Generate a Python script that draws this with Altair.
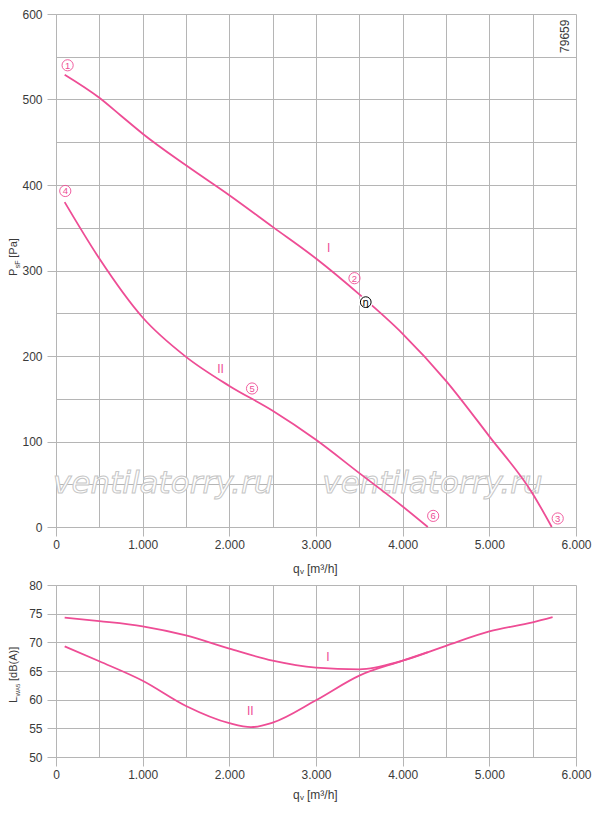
import altair as alt
import pandas as pd

PINK = "#ee4d95"
GRID = "#b5b5b5"
TXT = "#3a3a3a"
FONT = "Liberation Sans"

# ---------- data: pressure curves (top) ----------
p1_q = [100, 500, 750, 1000, 1500, 2000, 2500, 3000, 3500, 4000, 4500, 5000, 5500, 5720]
p1_p = [529, 502, 481, 460, 423, 388, 351, 314, 272, 226, 171, 106, 39, 0]
p2_q = [100, 500, 1000, 1500, 2000, 2500, 3000, 3500, 4000, 4290]
p2_p = [380, 314, 245, 199, 165, 136, 102, 63, 24, 0]

# ---------- data: sound power curves (bottom) ----------
l1_q = [100, 500, 1000, 1500, 2000, 2500, 3000, 3500, 4000, 4500, 5000, 5500, 5730]
l1_l = [74.3, 73.7, 72.8, 71.2, 68.9, 66.8, 65.6, 65.3, 66.8, 69.4, 71.9, 73.5, 74.4]
l2_q = [100, 500, 1000, 1500, 2000, 2250, 2500, 3000, 3500, 4000, 4290]
l2_l = [69.3, 66.7, 63.3, 58.9, 55.9, 55.2, 56.0, 59.9, 64.2, 66.8, 68.3]

# ---------- annotations ----------
pt_q = [134, 3444, 5789, 107, 2262, 4352]
pt_p = [540, 291, 10, 393, 162, 13]
pt_lbl = ["1", "2", "3", "4", "5", "6"]

curve_lbl = ["I", "II"]
top_lbl_q = [3146, 1899]
top_lbl_p = [326, 185]
bot_lbl_q = [3139, 2242]
bot_lbl_l = [67.5, 58.0]

eta_q = [3574]
eta_p = [263]

wm_q = [1237, 4344]
wm_p = [39.5, 39.5]
wm_text = ["ventilatorry.ru", "ventilatorry.ru"]

code_q = [5877]
code_p = [574]
code_text = ["79659"]

x_ticks = list(range(0, 6001, 500))
ytop_ticks = list(range(0, 601, 50))
ybot_ticks = list(range(50, 81, 5))

W = 520
H1 = 513
H2 = 172

xscale = alt.Scale(domain=[0, 6000], nice=False, zero=False)
ytop_scale = alt.Scale(domain=[0, 600], nice=False, zero=False)
ybot_scale = alt.Scale(domain=[50, 80], nice=False, zero=False)

x_label_expr = ("datum.value === 0 ? '0' : (datum.value % 1000 === 0 ? "
                "format(datum.value / 1000, 'd') + '.000' : '')")


def x_axis():
    return alt.Axis(
        values=x_ticks, labelExpr=x_label_expr, title=None, grid=True,
        gridColor=GRID, domainColor=GRID, tickColor=GRID, tickSize=9,
        tickOpacity={"condition": {"test": "datum.value % 1000 === 0", "value": 1}, "value": 0},
        labelPadding=3, labelFontSize=12, labelColor=TXT, labelFont=FONT,
        labelFlush=False, labelOverlap=False,
    )


def ytop_axis():
    return alt.Axis(
        values=ytop_ticks, labelExpr="datum.value % 100 === 0 ? datum.label : ''",
        title=None, grid=True, gridColor=GRID, domainColor=GRID, tickColor=GRID,
        tickSize=9,
        tickOpacity={"condition": {"test": "datum.value % 100 === 0", "value": 1}, "value": 0},
        labelPadding=5, labelFontSize=12, labelColor=TXT, labelFont=FONT,
        labelOverlap=False, labelFlush=False,
    )


def ybot_axis():
    return alt.Axis(
        values=ybot_ticks, title=None, grid=True, gridColor=GRID, domainColor=GRID,
        tickColor=GRID, tickSize=9, labelPadding=5, labelFontSize=12,
        labelColor=TXT, labelFont=FONT, labelOverlap=False, labelFlush=False,
    )


def XT():
    return alt.X("q:Q", scale=xscale, axis=x_axis())


def YT(field="p:Q"):
    return alt.Y(field, scale=ytop_scale, axis=ytop_axis())


def YB(field="l:Q"):
    return alt.Y(field, scale=ybot_scale, axis=ybot_axis())


one = pd.DataFrame({"a": [0]})


def label(txt, x, y, size, angle=None, align="left"):
    kw = dict(text=txt, fontSize=size, font=FONT, color=TXT, align=align, baseline="middle")
    if angle is not None:
        kw["angle"] = angle
    return alt.Chart(one).mark_text(**kw).encode(x=alt.value(x), y=alt.value(y))


# ================= TOP CHART =================
wm_df = pd.DataFrame({"q": wm_q, "p": wm_p, "t": wm_text})
watermark = alt.Chart(wm_df).mark_text(
    font="DejaVu Sans", fontStyle="italic", fontSize=31, fill="white",
    stroke="#c6c6c6", strokeWidth=1, baseline="alphabetic", align="center",
).encode(x=XT(), y=YT(), text="t:N")

top_df = pd.DataFrame({
    "q": p1_q + p2_q,
    "p": p1_p + p2_p,
    "s": ["I"] * len(p1_q) + ["II"] * len(p2_q),
})
top_lines = alt.Chart(top_df).mark_line(
    color=PINK, strokeWidth=1.8, interpolate="monotone"
).encode(x=XT(), y=YT(), detail="s:N")

pt_df = pd.DataFrame({"q": pt_q, "p": pt_p, "t": pt_lbl})
pt_circles = alt.Chart(pt_df).mark_point(
    shape="circle", size=125, filled=False, color=PINK, strokeWidth=0.9, opacity=1
).encode(x=XT(), y=YT())
pt_digits = alt.Chart(pt_df).mark_text(
    fontSize=9.5, font=FONT, color=PINK, align="center", baseline="middle", dy=0.5
).encode(x=XT(), y=YT(), text="t:N")

tl_df = pd.DataFrame({"q": top_lbl_q, "p": top_lbl_p, "t": curve_lbl})
top_curve_lbls = alt.Chart(tl_df).mark_text(
    fontSize=12, font=FONT, color=PINK, align="center", baseline="middle"
).encode(x=XT(), y=YT(), text="t:N")

eta_df = pd.DataFrame({"q": eta_q, "p": eta_p, "t": ["η"]})
eta_gap = alt.Chart(eta_df).mark_point(
    shape="circle", size=200, filled=True, color="white", opacity=1
).encode(x=XT(), y=YT())
eta_ring = alt.Chart(eta_df).mark_point(
    shape="circle", size=115, filled=False, color="black", strokeWidth=1, opacity=1
).encode(x=XT(), y=YT())
eta_txt = alt.Chart(eta_df).mark_text(
    fontSize=10, font="DejaVu Sans", color="black", align="center", baseline="middle", dy=0.5
).encode(x=XT(), y=YT(), text="t:N")

code_df = pd.DataFrame({"q": code_q, "p": code_p, "t": code_text})
code_txt = alt.Chart(code_df).mark_text(
    fontSize=12, font=FONT, color=TXT, angle=270, align="center", baseline="middle"
).encode(x=XT(), y=YT(), text="t:N")

TX = -42
yP = 262
top_titles = [
    label("q", 237, H1 + 42, 12),
    label("v", 244, H1 + 45, 8),
    label("[m³/h]", 251, H1 + 42, 12),
    label("P", TX, yP, 11, angle=270),
    label("sF", TX + 4, yP - 7.8, 7, angle=270),
    label("[Pa]", TX, yP - 18.3, 11, angle=270),
]

top = alt.layer(
    watermark, top_lines, pt_circles, pt_digits, top_curve_lbls,
    eta_gap, eta_ring, eta_txt, code_txt, *top_titles
).properties(width=W, height=H1)

# ================= BOTTOM CHART =================
bot_df = pd.DataFrame({
    "q": l1_q + l2_q,
    "l": l1_l + l2_l,
    "s": ["I"] * len(l1_q) + ["II"] * len(l2_q),
})
bot_lines = alt.Chart(bot_df).mark_line(
    color=PINK, strokeWidth=1.8, interpolate="monotone"
).encode(x=XT(), y=YB(), detail="s:N")

bl_df = pd.DataFrame({"q": bot_lbl_q, "l": bot_lbl_l, "t": curve_lbl})
bot_curve_lbls = alt.Chart(bl_df).mark_text(
    fontSize=12, font=FONT, color=PINK, align="center", baseline="middle"
).encode(x=XT(), y=YB(), text="t:N")

yL = 118
bot_titles = [
    label("q", 237, H2 + 38, 12),
    label("v", 244, H2 + 41, 8),
    label("[m³/h]", 251, H2 + 38, 12),
    label("L", TX, yL, 11, angle=270),
    label("WA5", TX + 4, yL - 6.5, 6, angle=270),
    label("[dB(A)]", TX, yL - 22, 11, angle=270),
]

bottom = alt.layer(bot_lines, bot_curve_lbls, *bot_titles).properties(width=W, height=H2)

chart = alt.vconcat(top, bottom, spacing=3).properties(
    padding=0, background="white"
).configure_view(stroke=None)

chart.save("out.html", embed_options={"renderer": "svg", "actions": False})
